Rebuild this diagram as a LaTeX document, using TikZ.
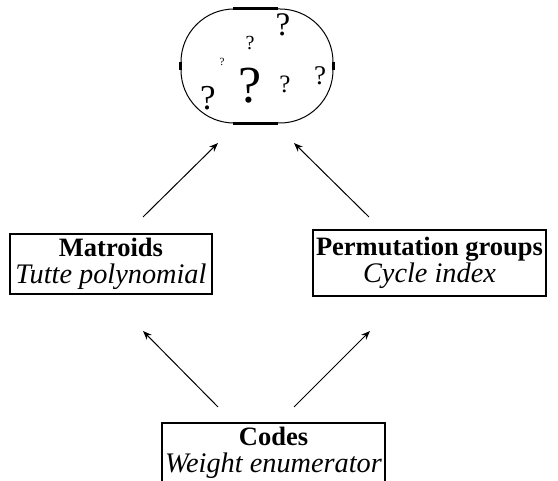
\documentclass[tikz,border=0pt]{standalone}
\usepackage{fontspec}
\setmainfont{Liberation Serif}
\usetikzlibrary{arrows.meta}
\newcommand{\boldline}[1]{{\fontsize{26.5}{27}\selectfont\bfseries #1}}
\newcommand{\itline}[1]{{\fontsize{28.3}{27}\selectfont\itshape #1}}
\begin{document}
\begin{tikzpicture}[x=1pt,y=-1pt,
  box/.style={draw,line width=2pt,inner sep=0pt,align=center,font=\fontsize{28.3}{27}\selectfont},
  arr/.style={line width=1pt,-{Stealth[length=9pt,width=7pt]}},
  qm/.style={inner sep=0pt,anchor=base}]
\useasboundingbox (0,0) rectangle (558,481);
% oval
\node[draw,line width=1pt,rounded corners=53pt,minimum width=152pt,minimum height=114pt,inner sep=0pt] (cloud) at (257,66) {};
\draw[line width=2.2pt] ([xshift=-24pt]cloud.north) -- ([xshift=21pt]cloud.north);
\draw[line width=2.2pt] ([xshift=-24pt]cloud.south) -- ([xshift=21pt]cloud.south);
\draw[line width=2.2pt] ([yshift=4pt]cloud.west) -- ([yshift=-4pt]cloud.west);
\draw[line width=2.2pt] ([yshift=4pt]cloud.east) -- ([yshift=-4pt]cloud.east);
% question marks
\node[qm,font=\fontsize{52}{52}\selectfont] (q1) at (250,103) {?};
\node[qm,font=\fontsize{35}{35}\selectfont] (q2) at (208,110) {?};
\node[qm,font=\fontsize{33}{33}\selectfont] (q3) at (283,36) {?};
\node[qm,font=\fontsize{20}{20}\selectfont] (q4) at (250,50) {?};
\node[qm,font=\fontsize{11}{11}\selectfont] (q5) at (222,66) {?};
\node[qm,font=\fontsize{25}{25}\selectfont] (q6) at (285,93) {?};
\node[qm,font=\fontsize{27}{27}\selectfont] (q7) at (320,85) {?};
% boxes
\node[box,minimum width=202pt,minimum height=60pt] (mat) at (111,264) {\boldline{Matroids}\\\itline{Tutte polynomial}};
\node[box,minimum width=233pt,minimum height=66pt] (perm) at (429.5,263) {\boldline{Permutation groups}\\\itline{Cycle index}};
\node[box,minimum width=223pt,minimum height=60pt] (codes) at (273.5,453) {\boldline{Codes}\\\itline{Weight enumerator}};
% arrow endpoints
\coordinate (a1s) at (143,217); \coordinate (a1e) at (218,143);
\coordinate (a2s) at (369,217); \coordinate (a2e) at (294,143);
\coordinate (a3s) at (218,407); \coordinate (a3e) at (143,331);
\coordinate (a4s) at (294,407); \coordinate (a4e) at (370,331);
\draw[arr] (a1s) -- (a1e);
\draw[arr] (a2s) -- (a2e);
\draw[arr] (a3s) -- (a3e);
\draw[arr] (a4s) -- (a4e);
\end{tikzpicture}
\end{document}
